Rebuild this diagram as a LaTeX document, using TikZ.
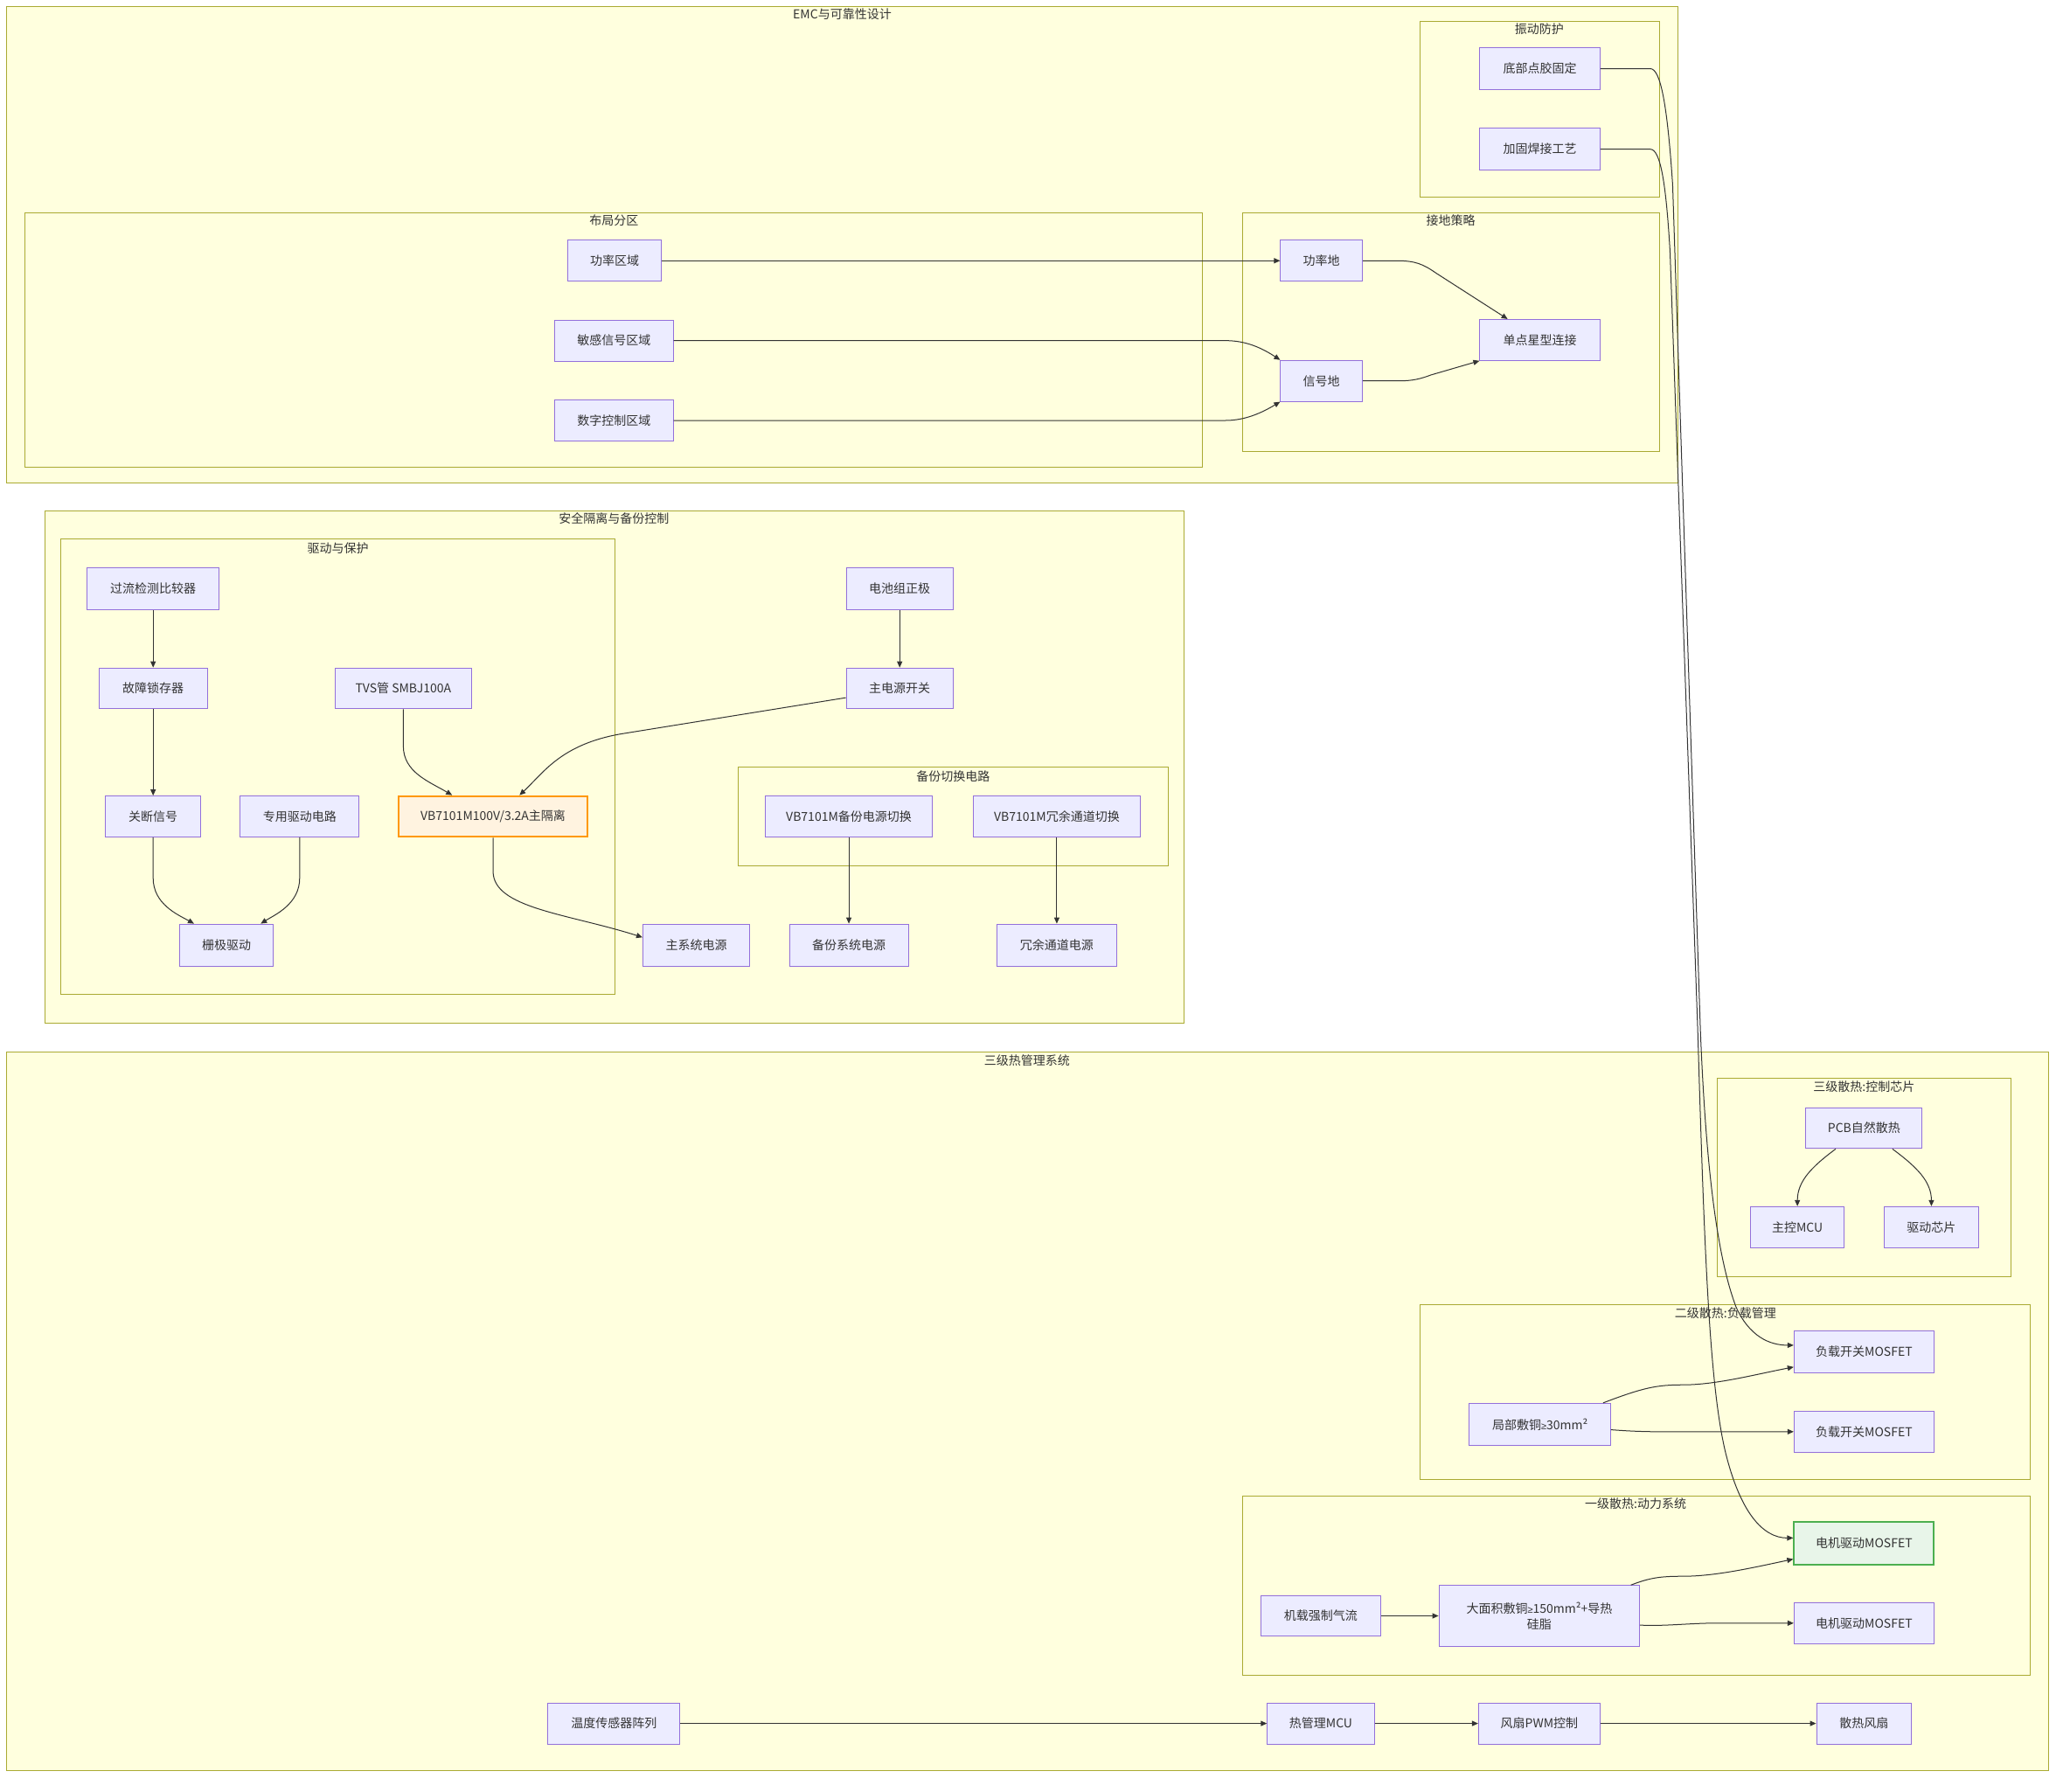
\documentclass[tikz,border=0pt]{standalone}
\usepackage{fontspec}
\setmainfont{Noto Sans CJK SC}
\newfontfamily\libfont{Liberation Sans}
\usetikzlibrary{arrows.meta,calc}
\definecolor{clfill}{HTML}{FFFFDE}
\definecolor{cldraw}{HTML}{AAAA33}
\definecolor{nfill}{HTML}{ECECFF}
\definecolor{ndraw}{HTML}{9370DB}
\definecolor{txt}{HTML}{333333}
\definecolor{edc}{HTML}{333333}
\definecolor{ofill}{HTML}{FFF3E0}
\definecolor{odraw}{HTML}{FF9800}
\definecolor{gfill}{HTML}{E8F5E9}
\definecolor{gdraw}{HTML}{4CAF50}
\newcommand\myfs{\fontsize{14}{18}\selectfont}
\newcommand\myge{{\libfont\fontsize{11}{18}\selectfont ≥}}
\tikzset{
  cl/.style={draw=cldraw, fill=clfill, line width=1pt},
  tl/.style={text=txt, font=\myfs, inner sep=0pt, anchor=center},
  nd/.style={draw=ndraw, fill=nfill, line width=1pt, text=txt, font=\myfs, inner sep=0pt, align=center},
  orng/.style={draw=odraw, fill=ofill, line width=2pt},
  grn/.style={draw=gdraw, fill=gfill, line width=2pt},
  sz/.style 2 args={minimum width={#1*1.5102pt}, minimum height={#2*1.5102pt}},
  ed/.style={draw=edc, line width=1pt, -{Triangle[length=7pt,width=6pt]}},
}
\begin{document}
\begin{tikzpicture}[x=1.5102pt,y=-1.5102pt]
\useasboundingbox (0,0) rectangle (1568,1357);
\fill[white] (0,0) rectangle (1568,1357);

% ---------------- clusters ----------------
\draw[cl] (5,5) rectangle (1271,366);
\node[tl] (c1) at (638,11) {EMC与可靠性设计};
\draw[cl] (1076,16) rectangle (1257,149);
\node[tl] (c2) at (1166,22) {振动防护};
\draw[cl] (19,161) rectangle (911,354);
\node[tl] (c3) at (465,167) {布局分区};
\draw[cl] (941,161) rectangle (1257,342);
\node[tl] (c4) at (1099,167) {接地策略};

\draw[cl] (34,387) rectangle (897,775);
\node[tl] (c5) at (465,393) {安全隔离与备份控制};
\draw[cl] (46,408) rectangle (466,753);
\node[tl] (c6) at (256,415) {驱动与保护};
\draw[cl] (559,581) rectangle (885,656);
\node[tl] (c7) at (722,588) {备份切换电路};

\draw[cl] (5,797) rectangle (1552,1341);
\node[tl] (c8) at (778,803) {三级热管理系统};
\draw[cl] (1301,817) rectangle (1523,967);
\node[tl] (c9) at (1412,823) {三级散热:控制芯片};
\draw[cl] (1076,988) rectangle (1538,1121);
\node[tl] (c10) at (1307,995) {二级散热:负载管理};
\draw[cl] (941,1133) rectangle (1538,1269);
\node[tl] (c11) at (1239,1139) {一级散热:动力系统};

% ---------------- nodes: EMC ----------------
\node[nd, sz={91}{32}] (b1) at (1166.5,52) {底部点胶固定};
\node[nd, sz={91}{32}] (b2) at (1166.5,113) {加固焊接工艺};
\node[nd, sz={71}{31}] (p1) at (465.5,197.5) {功率区域};
\node[nd, sz={90}{31}] (p2) at (465,258) {敏感信号区域};
\node[nd, sz={90}{31}] (p3) at (465,318.5) {数字控制区域};
\node[nd, sz={62}{31}] (g1) at (1001,197.5) {功率地};
\node[nd, sz={62}{31}] (g2) at (1001,288.5) {信号地};
\node[nd, sz={91}{31}] (g3) at (1166.5,257.5) {单点星型连接};

% ---------------- nodes: safety ----------------
\node[nd, sz={100}{32}] (s1) at (116,446) {过流检测比较器};
\node[nd, sz={82}{31}] (s2) at (116,521.5) {故障锁存器};
\node[nd, sz={103}{31}] (s3) at (305.5,521.5) {TVS管 SMBJ100A};
\node[nd, sz={72}{31}] (s4) at (116,618.5) {关断信号};
\node[nd, sz={90}{31}] (s5) at (227,618.5) {专用驱动电路};
\node[nd, orng, sz={143}{31}] (s6) at (373.5,618.5) {VB7101M100V/3.2A主隔离};
\node[nd, sz={71}{32}] (s7) at (171.5,716) {栅极驱动};
\node[nd, sz={81}{32}] (s8) at (681.5,446) {电池组正极};
\node[nd, sz={81}{31}] (s9) at (681.5,521.5) {主电源开关};
\node[nd, sz={126}{31}] (s10) at (643,618.5) {VB7101M备份电源切换};
\node[nd, sz={127}{31}] (s11) at (800.5,618.5) {VB7101M冗余通道切换};
\node[nd, sz={81}{32}] (s12) at (527.5,716) {主系统电源};
\node[nd, sz={90}{32}] (s13) at (643,716) {备份系统电源};
\node[nd, sz={91}{32}] (s14) at (800.5,716) {冗余通道电源};

% ---------------- nodes: thermal ----------------
\node[nd, sz={88}{31}] (t1) at (1412,854.5) {PCB自然散热};
\node[nd, sz={71}{31}] (t2) at (1361.5,929.5) {主控MCU};
\node[nd, sz={72}{31}] (t3) at (1463,929.5) {驱动芯片};
\node[nd, sz={106}{32}] (t4) at (1412,1024) {负载开关MOSFET};
\node[nd, sz={107}{32}] (t5) at (1166.5,1079) {局部敷铜\myge30mm²};
\node[nd, sz={106}{31}] (t6) at (1412,1084.5) {负载开关MOSFET};
\node[nd, grn, sz={106}{32}] (t7) at (1412,1169) {电机驱动MOSFET};
\node[nd, sz={91}{31}] (t8) at (1000.5,1224) {机载强制气流};
\node[nd, sz={152}{46}] (t9) at (1166,1224) {大面积敷铜\myge150mm²+导热\\硅脂};
\node[nd, sz={106}{31}] (t10) at (1412,1229.5) {电机驱动MOSFET};
\node[nd, sz={100}{31}] (t11) at (465,1305.5) {温度传感器阵列};
\node[nd, sz={81}{31}] (t12) at (1000.5,1305.5) {热管理MCU};
\node[nd, sz={92}{31}] (t13) at (1166,1305.5) {风扇PWM控制};
\node[nd, sz={72}{31}] (t14) at (1412,1305.5) {散热风扇};

% ---------------- edges: EMC ----------------
\draw[ed] (p1.east) -- (g1.west);
\draw[ed] (p2.east) -- (928,258) .. controls (940,258) and (952,261) .. (g2.north west);
\draw[ed] (p3.east) -- (928,318.5) .. controls (940,318.5) and (952,315) .. (g2.south west);
\draw[ed] (g1.east) -- (1058,197.5) .. controls (1072,197.5) and (1078,200) .. (1088,207) -- ($(g3.north)+(-24.5,0)$);
\draw[ed] (g2.east) -- (1060,288.5) .. controls (1070,288.5) and (1076,287) .. (1084,284) -- (g3.south west);

% ---------------- edges: safety ----------------
\draw[ed] (s1.south) -- (s2.north);
\draw[ed] (s2.south) -- (s4.north);
\draw[ed] (s4.south) -- (116,665) .. controls (116,685) and (135,693) .. ($(s7.north)+(-24.5,0)$);
\draw[ed] (s5.south) -- (227,665) .. controls (227,685) and (208,693) .. ($(s7.north)+(26,0)$);
\draw[ed] (s3.south) -- (305.5,565) .. controls (305.5,585) and (325,592) .. ($(s6.north)+(-31,0)$);
\draw[ed] ($(s9.west)+(0,7)$) -- (470,556) .. controls (425,564) and (412,585) .. ($(s6.north)+(20,0)$);
\draw[ed] (s8.south) -- (s9.north);
\draw[ed] (s6.south) -- (373.5,660) .. controls (373.5,688) and (430,692) .. ($(s12.west)+(0,-6)$);
\draw[ed] (s10.south) -- (s13.north);
\draw[ed] (s11.south) -- (s14.north);

% ---------------- edges: thermal ----------------
\draw[ed] ($(t1.south)+(-21.5,0)$) .. controls (1372,884) and (1361.5,895) .. (t2.north);
\draw[ed] ($(t1.south)+(21.5,0)$) .. controls (1452,884) and (1463,895) .. (t3.north);
\draw[ed] ($(t5.north east)+(-6,0)$) .. controls (1245,1051) and (1255,1049) .. (1275,1049) .. controls (1300,1049) and (1330,1041) .. ($(t4.west)+(0,11.5)$);
\draw[ed] ($(t5.east)+(0,4)$) .. controls (1245,1085) and (1262,1084.5) .. (1290,1084.5) -- (t6.west);
\draw[ed] ($(t9.north east)+(-7,0)$) .. controls (1250,1195) and (1258,1194) .. (1275,1194) .. controls (1300,1194) and (1330,1187) .. ($(t7.west)+(0,12)$);
\draw[ed] ($(t9.east)+(0,7)$) .. controls (1260,1232) and (1280,1229.5) .. (1300,1229.5) -- (t10.west);
\draw[ed] (t8.east) -- (t9.west);
\draw[ed] (t11.east) -- (t12.west);
\draw[ed] (t12.east) -- (t13.west);
\draw[ed] (t13.east) -- (t14.west);

% ---------------- long edges ----------------
\draw[ed] (b1.east) -- (1250,52) .. controls (1258,52) and (1263,80) .. (1267,140) -- (1288,780) .. controls (1292,880) and (1300,950) .. (1315,990) .. controls (1325,1012) and (1340,1019) .. ($(t4.west)+(0,-5)$);
\draw[ed] (b2.east) -- (1250,113) .. controls (1258,113) and (1262,140) .. (1265,190) -- (1286,780) .. controls (1291,950) and (1295,1050) .. (1307,1100) .. controls (1318,1145) and (1335,1165) .. ($(t7.west)+(0,-4)$);
\end{tikzpicture}
\end{document}
